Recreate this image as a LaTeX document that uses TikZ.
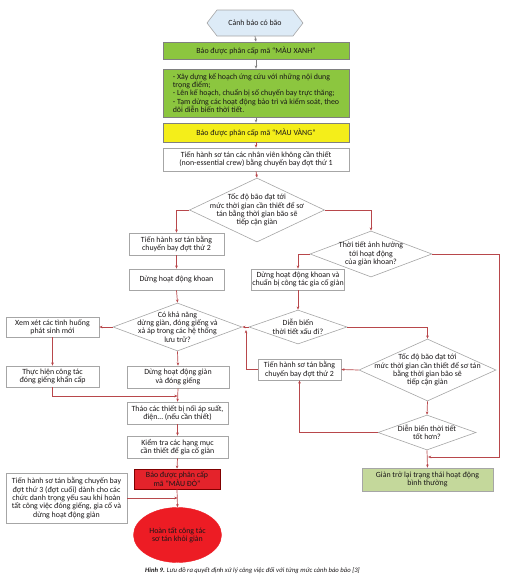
\documentclass[tikz,border=0pt]{standalone}
\usepackage{fontspec}
\setmainfont{Carlito}
\usetikzlibrary{shapes.geometric,arrows.meta}
\definecolor{bgray}{HTML}{A6A6A6}
\definecolor{lred}{HTML}{B8474B}
\definecolor{hexblue}{HTML}{DDEBF7}
\definecolor{gtop}{HTML}{8CC63F}
\definecolor{ylw}{HTML}{F4EE1A}
\definecolor{rbox}{HTML}{E4232B}
\definecolor{rell}{HTML}{ED1C24}
\definecolor{glight}{HTML}{C4D89B}
\definecolor{txt}{HTML}{1A1718}
\begin{document}
\begin{tikzpicture}[x=1pt,y=-1pt,
  font=\fontsize{7.9}{8.4}\selectfont, text=txt,
  box/.style={draw=bgray, line width=0.6pt, fill=white, align=center, inner sep=1pt},
  dia/.style={draw=bgray, line width=0.6pt, fill=white, diamond, inner sep=0pt},
  conn/.style={draw=lred, line width=0.7pt, -{Stealth[length=3.2pt,width=2.6pt]}},
  gconn/.style={draw=gray, line width=0.7pt, -{Stealth[length=3.2pt,width=2.6pt]}}]
\useasboundingbox (0,0) rectangle (511,579);

% hexagon
\filldraw[draw=bgray, line width=0.6pt, fill=hexblue] (207,23) -- (217,10) -- (293,10) -- (303,23) -- (293,36) -- (217,36) -- cycle;
\node[minimum width=96pt, minimum height=26pt, inner sep=0pt] (hex) at (255,23) {Cảnh báo có bão};

\node[box, fill=gtop, draw=gray, minimum width=186pt, minimum height=17pt] (g1) at (256,50.5) {Báo được phân cấp mã “MÀU XANH”};
\node[box, fill=gtop, draw=gray, minimum width=186pt, minimum height=48pt, align=left, inner sep=3pt] (gb) at (256,93)
  {- Xây dựng kế hoạch ứng cứu với những nội dung\\ trọng điểm;\\- Lên kế hoạch, chuẩn bị số chuyến bay trực thăng;\\- Tạm dừng các hoạt động bảo trì và kiểm soát, theo\\ dõi diễn biến thời tiết.};
\node[box, fill=ylw, draw=gray, minimum width=186pt, minimum height=19pt] (yb) at (256,132.5) {Báo được phân cấp mã “MÀU VÀNG”};
\node[box, minimum width=186pt, minimum height=23pt] (w1) at (256,159.5) {Tiến hành sơ tán các nhân viên không cần thiết\\(non-essential crew) bằng chuyến bay đợt thứ 1};

\node[dia, minimum width=135pt, minimum height=64pt, label={[align=center]center:Tốc độ bão đạt tới\\mức thời gian cần thiết để sơ\\tán bằng thời gian bão sẽ\\tiếp cận giàn}] (d1) at (257,210) {};

\node[box, minimum width=95pt, minimum height=22pt] (s2) at (176.5,244) {Tiến hành sơ tán bằng\\chuyến bay đợt thứ 2};
\node[box, minimum width=95pt, minimum height=21pt] (dk) at (176.5,279.5) {Dừng hoạt động khoan};

\node[dia, minimum width=122pt, minimum height=46pt, label={[align=center]center:Thời tiết ảnh hưởng\\tới hoạt động\\của giàn khoan?}] (d2) at (371,254) {};
\node[box, minimum width=90pt, minimum height=21pt] (kh2) at (298,279.5) {Dừng hoạt động khoan và\\chuẩn bị công tác gia cố giàn};

\node[dia, minimum width=98pt, minimum height=34pt, label={[align=center]center:Diễn biến\\thời tiết xấu đi?}] (d3) at (298,327) {};

\node[dia, minimum width=129pt, minimum height=48pt, label={[align=center]center:Có khả năng\\dừng giàn, đóng giếng và\\xả áp trong các hệ thống\\lưu trữ?}] (d6) at (177.5,327) {};

\node[box, minimum width=93pt, minimum height=20pt] (xx) at (52.5,327) {Xem xét các tình huống\\phát sinh mới};
\node[box, minimum width=93pt, minimum height=21pt] (th) at (52.5,376.5) {Thực hiện công tác\\đóng giếng khẩn cấp};
\node[box, minimum width=102pt, minimum height=22pt] (dg) at (178,377) {Dừng hoạt động giàn\\và đóng giếng};
\node[box, minimum width=101pt, minimum height=22pt] (thao) at (177.5,413) {Tháo các thiết bị nối áp suất,\\điện… (nếu cần thiết)};
\node[box, minimum width=101pt, minimum height=22pt] (kt) at (177.5,447) {Kiểm tra các hạng mục\\cần thiết để gia cố giàn};
\node[box, fill=rbox, draw=red!50!black, minimum width=86pt, minimum height=20pt] (rb) at (177,479) {Báo được phân cấp\\mã “MÀU ĐỎ”};
\node[ellipse, fill=rell, draw=rell, minimum width=88pt, minimum height=55pt, inner sep=0pt, align=center] (ell) at (177.5,535) {Hoàn tất công tác\\sơ tán khỏi giàn};
\node[box, minimum width=121pt, minimum height=50pt] (s3) at (66.5,498) {Tiến hành sơ tán bằng chuyến bay\\đợt thứ 3 (đợt cuối) dành cho các\\chức danh trọng yếu sau khi hoàn\\tất công việc đóng giếng, gia cố và\\dừng hoạt động giàn};

\node[dia, minimum width=137pt, minimum height=62pt, label={[align=center]center:Tốc độ bão đạt tới\\mức thời gian cần thiết để sơ tán\\bằng thời gian bão sẽ\\tiếp cận giàn}] (d4) at (427.5,370) {};
\node[box, minimum width=83pt, minimum height=21pt] (s2r) at (299.5,369.5) {Tiến hành sơ tán bằng\\chuyến bay đợt thứ 2};
\node[dia, minimum width=98pt, minimum height=35pt, label={[align=center]center:Diễn biến thời tiết\\tốt hơn?}] (d5) at (427,432.5) {};
\node[box, fill=glight, minimum width=131pt, minimum height=23pt] (g2) at (427.5,479.5) {Giàn trở lại trạng thái hoạt động\\bình thường};

\coordinate (rj) at (499,457);
\coordinate (gj) at (428,457);
\coordinate (j1) at (246,330);
\coordinate (j2) at (177.5,396);
\coordinate (j3) at (177.5,498);

% connectors
\draw[gconn] (hex.south) -- (g1.north);
\draw[gconn] (g1.south) -- (gb.north);
\draw[gconn] (gb.south) -- (yb.north);
\draw[conn] (yb.south) -- (w1.north);
\draw[conn] (w1.south) -- (d1.north);
\draw[conn] (d1.west) -| (s2.north);
\draw[conn] (d1.east) -| (d2.north);
\draw[conn] (s2.south) -- (dk.north);
\draw[conn] (d2.west) -| (kh2.north);
\draw[conn] (d2.east) -| (rj) -- (gj);
\draw[conn] (kh2.south) -- (d3.north);
\draw[conn] (d3.east) -| (d4.north);
\draw[conn] (d3.west) -- (d6.east);
\draw[conn] (s2r.west) -| (j1);
\draw[conn] (d4.west) -- (s2r.east);
\draw[conn] (d4.south) -- (d5.north);
\draw[conn] (d5.west) -| (s2r.south);
\draw[conn] (d5.south) -- (g2.north);
\draw[conn] (dk.south) -- (d6.north);
\draw[conn] (d6.west) -- (xx.east);
\draw[conn] (d6.south) -- (dg.north);
\draw[conn] (xx.south) -- (th.north);
\draw[conn] (th.south) |- (j2);
\draw[conn] (dg.south) -- (thao.north);
\draw[conn] (thao.south) -- (kt.north);
\draw[conn] (kt.south) -- (rb.north);
\draw[conn] (rb.south) -- (ell.north);
\draw[conn] (s3.east) -- (j3);

\node[font=\fontsize{6.7}{7.5}\selectfont\itshape, inner sep=0pt] (cap) at (252.5,571) {\textbf{Hình 9.} Lưu đồ ra quyết định xử lý công việc đối với từng mức cảnh báo bão [3]};
\end{tikzpicture}
\end{document}
